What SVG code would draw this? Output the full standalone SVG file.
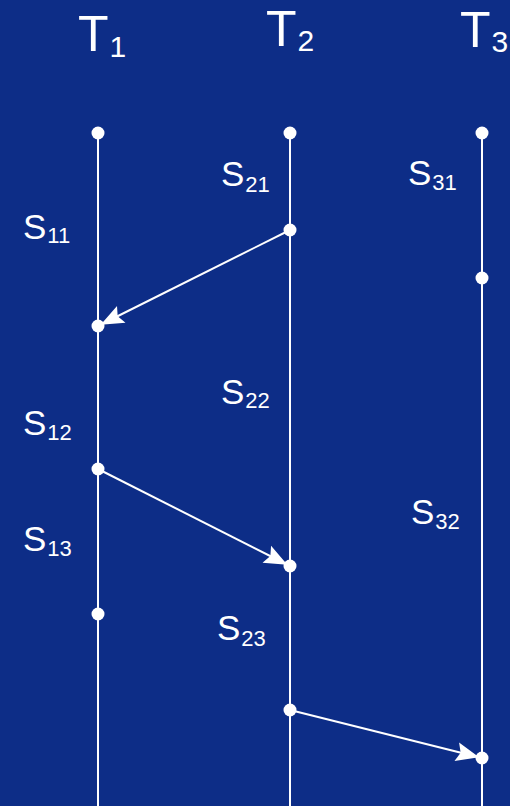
<svg xmlns="http://www.w3.org/2000/svg" width="510" height="806" viewBox="0 0 510 806">
<style>
.bg{fill:#0d2d87}
.life{stroke:#fff;stroke-width:2;fill:none}
.msg{stroke:#fff;stroke-width:2;fill:none;marker-end:url(#ah)}
.dot{fill:#fff}
.t{font-family:"Liberation Sans",Arial,sans-serif;fill:#fff;font-size:50px}
.s{font-family:"Liberation Sans",Arial,sans-serif;fill:#fff;font-size:35px}
.ts{font-size:30px}
.ss{font-size:22px}
</style>
<defs>
<marker id="ah" markerUnits="userSpaceOnUse" viewBox="-25 -12 30 24" markerWidth="30" markerHeight="24" refX="3" refY="0" orient="auto" overflow="visible">
<path d="M0,0 L-23,-9.5 L-19,0 L-23,9.5 Z" fill="#fff"/>
</marker>
</defs>
<rect class="bg" x="0" y="0" width="510" height="806"/>
<g id="T1">
<text class="t" x="78" y="51">T<tspan class="ts" dx="1" dy="6">1</tspan></text>
<line class="life" x1="98" y1="133" x2="98" y2="806"/>
<circle class="dot" cx="98" cy="133" r="6.5"/>
<circle class="dot" cx="98" cy="326" r="6.5"/>
<circle class="dot" cx="98" cy="469" r="6.5"/>
<circle class="dot" cx="98" cy="614" r="6.5"/>
<text class="s" x="23" y="239">S<tspan class="ss" dx="1" dy="4">11</tspan></text>
<text class="s" x="23" y="435">S<tspan class="ss" dx="1" dy="5">12</tspan></text>
<text class="s" x="23" y="551">S<tspan class="ss" dx="1" dy="5">13</tspan></text>
</g>
<g id="T2">
<text class="t" x="266" y="46">T<tspan class="ts" dx="1" dy="5">2</tspan></text>
<line class="life" x1="290" y1="133" x2="290" y2="806"/>
<circle class="dot" cx="290" cy="133" r="6.5"/>
<circle class="dot" cx="290" cy="230" r="6.5"/>
<circle class="dot" cx="290" cy="566" r="6.5"/>
<circle class="dot" cx="290" cy="710" r="6.5"/>
<text class="s" x="221" y="186">S<tspan class="ss" dx="1" dy="6">21</tspan></text>
<text class="s" x="221" y="404">S<tspan class="ss" dx="1" dy="4">22</tspan></text>
<text class="s" x="217" y="640">S<tspan class="ss" dx="1" dy="6">23</tspan></text>
</g>
<g id="T3">
<text class="t" x="460" y="47">T<tspan class="ts" dx="1" dy="5">3</tspan></text>
<line class="life" x1="482" y1="133" x2="482" y2="806"/>
<circle class="dot" cx="482" cy="133" r="6.5"/>
<circle class="dot" cx="482" cy="278" r="6.5"/>
<circle class="dot" cx="482" cy="758" r="6.5"/>
<text class="s" x="408" y="185">S<tspan class="ss" dx="1" dy="5">31</tspan></text>
<text class="s" x="411" y="524">S<tspan class="ss" dx="1" dy="5">32</tspan></text>
</g>
<g id="connectors">
<line class="msg" x1="290" y1="230" x2="98" y2="326"/>
<line class="msg" x1="98" y1="469" x2="290" y2="566"/>
<line class="msg" x1="290" y1="710" x2="482" y2="758"/>
</g>
</svg>
